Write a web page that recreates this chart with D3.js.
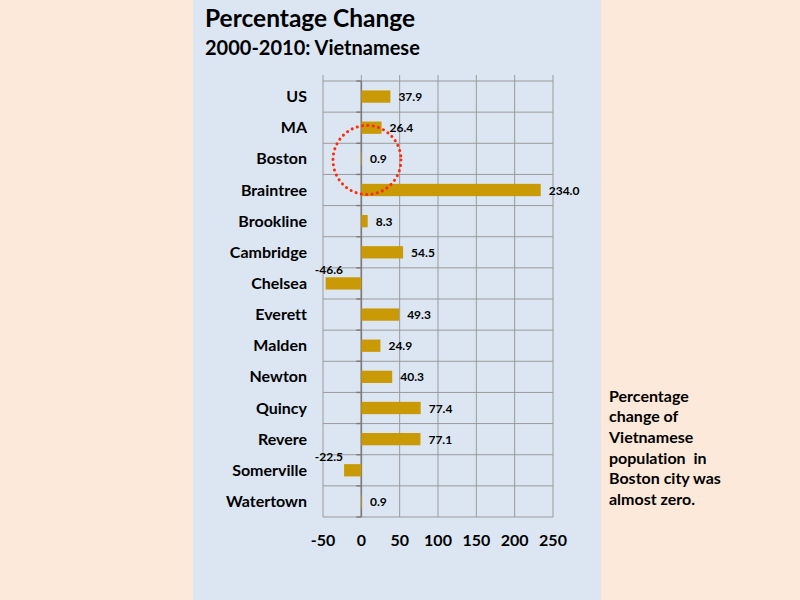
<!DOCTYPE html>
<html lang="en">
<head>
    <meta charset="UTF-8">
    <title>Percentage Change 2000-2010: Vietnamese</title>
    <script src="https://d3js.org/d3.v7.min.js"></script>
    <style>
        body { margin: 0; background: #fde9d9; }
        svg { display: block; font-family: Lato, "Open Sans", sans-serif; font-weight: bold; font-variant-ligatures: none; }
    </style>
</head>
<body>
    <svg width="800" height="600"></svg>
    <script>
        const places = ['US', 'MA', 'Boston', 'Braintree', 'Brookline', 'Cambridge', 'Chelsea',
            'Everett', 'Malden', 'Newton', 'Quincy', 'Revere', 'Somerville', 'Watertown'];
        const changes = [37.9, 26.4, 0.9, 234.0, 8.3, 54.5, -46.6, 49.3, 24.9, 40.3, 77.4, 77.1, -22.5, 0.9];
        const xTicks = [-50, 0, 50, 100, 150, 200, 250];
        const noteLines = ['Percentage', 'change of', 'Vietnamese', 'population  in', 'Boston city was', 'almost zero.'];

        const svg = d3.select('svg');

        // backgrounds
        svg.append('rect').attr('width', 800).attr('height', 600).attr('fill', '#fde9d9');
        svg.append('rect').attr('x', 193).attr('y', 0).attr('width', 408).attr('height', 600).attr('fill', '#dce6f2');

        // titles
        svg.append('text').attr('x', 205).attr('y', 27).attr('font-size', 24.5).text('Percentage Change');
        svg.append('text').attr('x', 205).attr('y', 55).attr('font-size', 20).text('2000-2010: Vietnamese');

        const x = d3.scaleLinear().domain([-50, 250]).range([323, 553]);
        const y = d3.scaleBand().domain(places).range([81, 517]);
        const barH = 12.3;

        // vertical gridlines
        svg.append('g').selectAll('line').data(xTicks).join('line')
            .attr('x1', d => x(d)).attr('x2', d => x(d))
            .attr('y1', 75).attr('y2', 517)
            .attr('stroke', '#9a9a9a').attr('stroke-width', 1);

        // horizontal gridlines at row boundaries
        const bounds = places.map(p => y(p)).concat([y.range()[1]]);
        svg.append('g').selectAll('line').data(bounds).join('line')
            .attr('x1', x(-50)).attr('x2', x(250))
            .attr('y1', d => d).attr('y2', d => d)
            .attr('stroke', '#9a9a9a').attr('stroke-width', 1);

        // zero axis with ticks
        svg.append('line')
            .attr('x1', x(0)).attr('x2', x(0)).attr('y1', 81).attr('y2', 517)
            .attr('stroke', '#7a7a7a').attr('stroke-width', 1.6);
        svg.append('g').selectAll('line').data(bounds).join('line')
            .attr('x1', x(0) - 5).attr('x2', x(0))
            .attr('y1', d => d).attr('y2', d => d)
            .attr('stroke', '#7a7a7a').attr('stroke-width', 1.4);

        // bars
        svg.append('g').selectAll('rect').data(places).join('rect')
            .attr('x', (d, i) => x(Math.min(0, changes[i])))
            .attr('y', d => y(d) + (y.bandwidth() - barH) / 2)
            .attr('width', (d, i) => Math.abs(x(changes[i]) - x(0)))
            .attr('height', barH)
            .attr('fill', '#c99a06');

        // value labels
        svg.append('g').selectAll('text').data(places).join('text')
            .attr('font-size', 12)
            .attr('x', (d, i) => changes[i] < 0 ? 343 : x(changes[i]) + 8)
            .attr('y', (d, i) => changes[i] < 0
                ? y(d) + (y.bandwidth() - barH) / 2 - 3
                : y(d) + y.bandwidth() / 2 + 4.5)
            .attr('text-anchor', (d, i) => changes[i] < 0 ? 'end' : 'start')
            .text((d, i) => changes[i].toFixed(1));

        // category labels
        svg.append('g').selectAll('text').data(places).join('text')
            .attr('font-size', 16)
            .attr('x', 307)
            .attr('y', d => y(d) + y.bandwidth() / 2 + 5.5)
            .attr('text-anchor', 'end')
            .text(d => d);

        // x tick labels
        svg.append('g').selectAll('text').data(xTicks).join('text')
            .attr('font-size', 16)
            .attr('x', d => x(d))
            .attr('y', 546)
            .attr('text-anchor', 'middle')
            .text(d => d);

        // dotted highlight around Boston
        svg.append('ellipse')
            .attr('cx', 367).attr('cy', 160).attr('rx', 34).attr('ry', 34.5)
            .attr('fill', 'none').attr('stroke', '#ff2a0a')
            .attr('stroke-width', 3).attr('stroke-linecap', 'round')
            .attr('stroke-dasharray', '0.1 5.3');

        // side note
        svg.append('g').selectAll('text').data(noteLines).join('text')
            .attr('font-size', 16)
            .attr('x', 609)
            .attr('y', (d, i) => 401.5 + i * 20.7)
            .style('white-space', 'pre')
            .text(d => d);
    </script>
</body>
</html>
